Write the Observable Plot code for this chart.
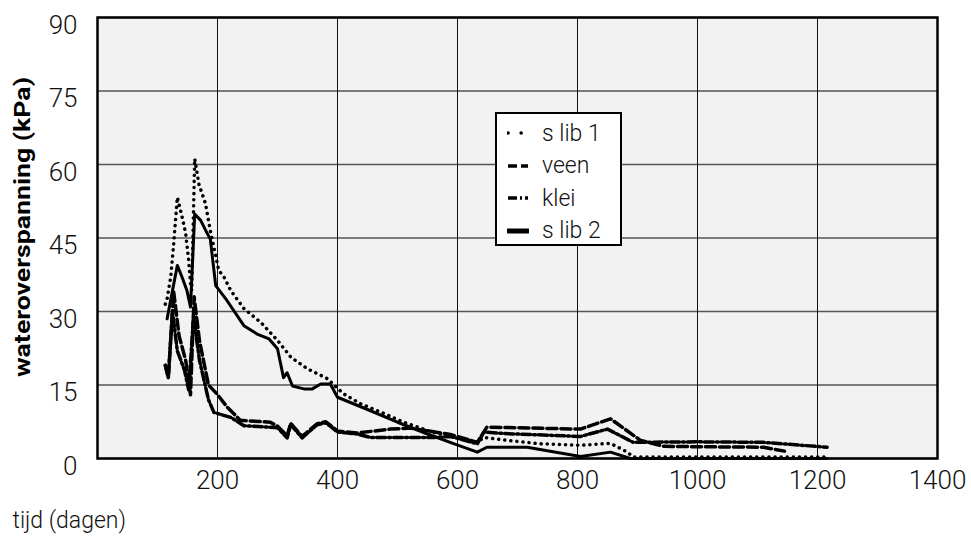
<!DOCTYPE html>
<html>
<head>
<meta charset="utf-8">
<script src="https://cdn.jsdelivr.net/npm/d3@7"></script>
<script src="https://cdn.jsdelivr.net/npm/@observablehq/plot@0.6"></script>
<style>
  html, body { margin: 0; padding: 0; background: #fff; }
  #wrap { position: relative; width: 971px; height: 542px; overflow: hidden; }
  #legend {
    position: absolute; left: 495px; top: 112px; width: 123px; height: 130px;
    background: #fff; border: 2px solid #000;
    font-family: Roboto, "DejaVu Sans Condensed", sans-serif; font-weight: 300;
    font-size: 23px; color: #111;
  }
  .item { position: absolute; left: 0; height: 30px; display: flex; align-items: center; }
  .item svg { margin-left: 10px; margin-right: 13px; }
</style>
</head>
<body>
<div id="wrap"></div>
<script>
// ---- data ----
const xTickValues = [200, 400, 600, 800, 1000, 1200, 1400];
const yTickValues = [0, 15, 30, 45, 60, 75, 90];

const seriesNames = ["s lib 1", "veen", "klei", "s lib 2"];

const slib1Days = [113,116,122,127,133,141,147,152,155,157,162,169,180,188,194,202,211,222,244,272,300,322,350,383,410,438,477,510,560,588,633,644,683,738,805,855,883,893,1000,1100,1216];
const slib1Values = [31.5,32.6,37,43.8,53.3,49.3,45.9,40.4,35.7,34.3,61.2,56,52,46.5,43.1,38.4,37,34.3,30.6,27.8,24.1,20.7,18.3,16.3,13.2,11.2,9.2,7.4,5.3,4.7,3.3,4.3,3.7,3.0,2.7,3.1,1.3,0.3,0.3,0.3,0.3];

const veenDays = [113,118,127,136,147,155,161,170,185,199,216,238,288,300,316,322,341,366,380,388,400,433,488,522,588,633,649,805,855,905,943,1000,1110,1145];
const veenValues = [19,16.5,34,25,20,13,33,24,15,13.2,10.5,7.8,7.4,6.6,4.6,7.2,4.5,7.1,7.5,6.8,5.6,5.2,6.0,6.2,4.9,3.3,6.4,6.0,8.1,3.7,2.5,2.4,2.3,1.5];

const kleiDays = [113,118,125,133,145,152,160,170,185,194,222,244,300,316,322,341,366,380,388,400,433,455,560,588,633,644,677,805,850,893,1000,1110,1216];
const kleiValues = [19,16.5,30,22,18,14,29,20,12,9.4,8.4,6.7,6.3,4.2,6.9,4.2,6.9,7.3,6.6,5.4,5.0,4.3,4.3,4.5,3.0,5.4,5.1,4.5,6.0,3.3,3.4,3.3,2.3];

const slib2Days = [116,133,141,149,155,162,172,183,188,197,216,244,266,286,300,310,316,325,344,358,372,388,400,450,500,550,590,633,649,716,805,855,888,1000,1100,1216];
const slib2Values = [28.5,39.4,37,34.3,30.9,49.9,48.6,45.9,44.8,35.3,32.2,27.1,25.4,24.4,22.4,16.5,17.5,14.8,14.2,14.2,15.2,15.2,12.5,10,7.4,5,3.2,1.3,2.3,2.3,0.4,1.3,0,0,0,0];

const yTitle = "wateroverspanning (kPa)";
const xTitle = "tijd (dagen)";

// ---- build rows ----
const rows = (days, vals) => days.map((d, i) => ({day: d, value: vals[i]}));
const slib1 = rows(slib1Days, slib1Values);
const veen = rows(veenDays, veenValues);
const klei = rows(kleiDays, kleiValues);
const slib2 = rows(slib2Days, slib2Values);

const FONT = 'Roboto, "DejaVu Sans Condensed", sans-serif';

const chart = Plot.plot({
  width: 971,
  height: 542,
  marginLeft: 97,
  marginRight: 34,
  marginTop: 17,
  marginBottom: 84,
  style: {fontFamily: FONT, background: "#fff", overflow: "visible"},
  x: {domain: [0, 1400], axis: null},
  y: {domain: [0, 90], axis: null},
  marks: [
    Plot.frame({fill: "#f2f2f2", stroke: null}),
    Plot.ruleY(yTickValues, {stroke: "#555", strokeWidth: 1.5}),
    Plot.ruleX(xTickValues, {stroke: "#111", strokeWidth: 1}),
    Plot.line(klei, {x: "day", y: "value", stroke: "#000", strokeWidth: 3.5, strokeDasharray: "9,3,2,3"}),
    Plot.line(veen, {x: "day", y: "value", stroke: "#000", strokeWidth: 3.5, strokeDasharray: "10,4"}),
    Plot.line(slib1, {x: "day", y: "value", stroke: "#000", strokeWidth: 3.5, strokeDasharray: "0.1,6", strokeLinecap: "round"}),
    Plot.line(slib2, {x: "day", y: "value", stroke: "#000", strokeWidth: 3}),
    Plot.frame({stroke: "#000", strokeWidth: 2.5}),
    Plot.text(yTickValues, {y: d => d, text: d => String(d), frameAnchor: "left", dx: -20, dy: 8, textAnchor: "end", fontSize: 26, fontWeight: 300, fill: "#111"}),
    Plot.text(xTickValues, {x: d => d, text: d => String(d), frameAnchor: "bottom", dy: 22, lineAnchor: "middle", fontSize: 26, fontWeight: 300, fill: "#111"}),
    Plot.text([xTitle], {text: d => d, frameAnchor: "bottom-left", dx: -85, dy: 62, textAnchor: "start", lineAnchor: "middle", fontSize: 23, fontWeight: 300, fill: "#111"}),
    Plot.text([yTitle], {text: d => d, frameAnchor: "left", dx: -75, dy: -11, rotate: -90, textAnchor: "middle", lineAnchor: "middle", fontSize: 22, fontWeight: "bold", fill: "#000"})
  ]
});

const wrap = document.getElementById("wrap");
wrap.appendChild(chart);

// stretch the y title to the reference length
d3.select(chart).selectAll("text").filter(function() { return this.textContent === yTitle; })
  .attr("textLength", 300).attr("lengthAdjust", "spacingAndGlyphs");

// ---- legend ----
const legendStyles = {
  "s lib 1": {w: 3.5, dash: "0.1,13", cap: "round"},
  "veen": {w: 3.5, dash: "9,4", cap: "butt"},
  "klei": {w: 3.5, dash: "9,3,2,3", cap: "butt"},
  "s lib 2": {w: 5, dash: null, cap: "round"}
};
const legend = document.createElement("div");
legend.id = "legend";
seriesNames.forEach((name, i) => {
  const item = document.createElement("div");
  item.className = "item";
  item.style.top = (4 + i * 32.5) + "px";
  const s = legendStyles[name];
  item.innerHTML = `<svg width="22" height="10"><line x1="1" x2="21" y1="5" y2="5" stroke="#000" stroke-width="${s.w}" ${s.dash ? `stroke-dasharray="${s.dash}"` : ""} stroke-linecap="${s.cap}"/></svg><span>${name}</span>`;
  legend.appendChild(item);
});
wrap.appendChild(legend);
</script>
</body>
</html>
